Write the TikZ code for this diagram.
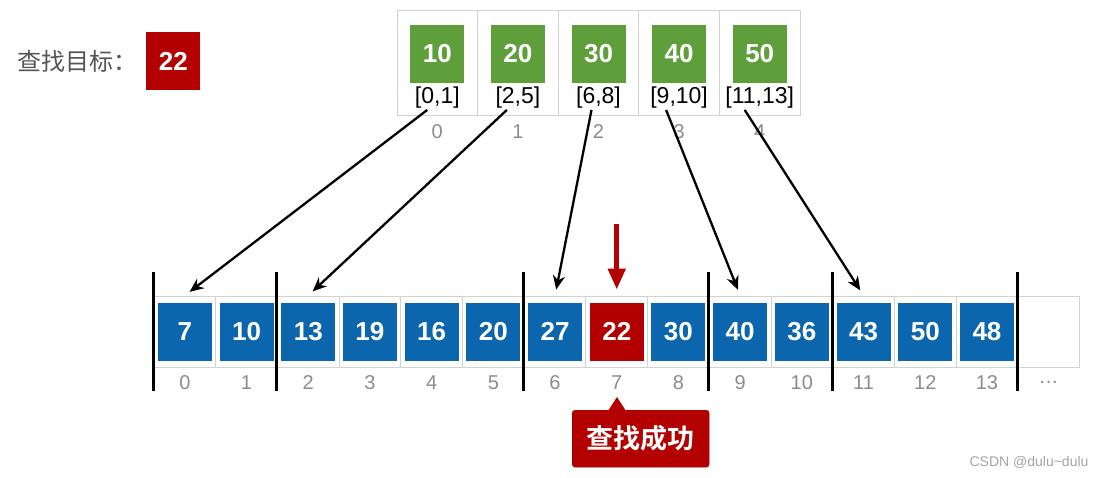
\documentclass[tikz,border=0pt]{standalone}
\usepackage{fontspec}
\setmainfont{Liberation Sans}
\newfontfamily\cjk{Noto Sans CJK SC}[BoldFont={Noto Sans CJK SC Bold}]
\usetikzlibrary{arrows.meta, positioning, calc}
\definecolor{BlockBlue}{HTML}{0C66AD}
\definecolor{BlockGreen}{HTML}{5E9F3B}
\definecolor{HitRed}{HTML}{B30000}
\definecolor{Grid}{HTML}{D2D2D2}
\definecolor{Gray55}{HTML}{555555}
\definecolor{Gray60}{HTML}{8C8C8C}

\begin{document}
\begin{tikzpicture}[x=1pt, y=-1pt,
          cell/.style={rectangle, draw=Grid, line width=1pt, minimum width=61.7pt,
                       minimum height=71pt, inner sep=0pt},
          tcell/.style={rectangle, draw=Grid, line width=1pt, minimum width=80.6pt,
                        minimum height=105pt, inner sep=0pt},
          vbox/.style={rectangle, minimum width=54pt, minimum height=58pt, inner sep=0pt,
                       text=white, font=\bfseries\fontsize{26}{26}\selectfont},
          idx/.style={text=Gray60, font=\fontsize{20}{20}\selectfont},
          rng/.style={text=black, font=\fontsize{23}{23}\selectfont, inner sep=1pt},
          bar/.style={line width=3pt, black},
          arr/.style={-{Stealth[length=14pt, width=12pt]}, line width=2.3pt, black, shorten >=6pt},
          hit/.style={-{Triangle[length=21pt, width=17pt]}, line width=5pt, HitRed, shorten >=6pt},
          okbox/.style={rectangle, rounded corners=3pt, fill=HitRed, draw=HitRed!80!black,
                        minimum width=137pt, minimum height=57pt, text=white,
                        font=\cjk\bfseries\fontsize{27}{27}\selectfont}
        ]
          \useasboundingbox (0,0) rectangle (1105,477);
          % target
          \node[anchor=west, text=Gray55, font=\cjk\fontsize{24}{24}\selectfont] (goal) at (14,61) {查找目标：};
          \node[vbox, fill=HitRed, right=5pt of goal] (key) {22};
          % index table
          \foreach \v/\r [count=\j from 0] in {10/{[0,1]},20/{[2,5]},30/{[6,8]},40/{[9,10]},50/{[11,13]}} {
            \node[tcell] (t\j) at ({437.3+80.6*\j},62.5) {};
            \node[vbox, fill=BlockGreen] (g\j) at ({437.3+80.6*\j},54) {\v};
            \node[rng] (r\j) at ({437.3+80.6*\j},98) {\r};
            \node[idx] (ti\j) at ({437.3+80.6*\j},132) {\j};
          }
          % blocks
          \foreach \i in {0,...,14}
            \node[cell] (c\i) at ({184.85+61.7*\i},331.5) {};
          \foreach \v/\col [count=\i from 0] in {7/BlockBlue,10/BlockBlue,13/BlockBlue,19/BlockBlue,
                16/BlockBlue,20/BlockBlue,27/BlockBlue,22/HitRed,30/BlockBlue,40/BlockBlue,
                36/BlockBlue,43/BlockBlue,50/BlockBlue,48/BlockBlue} {
            \node[vbox, fill=\col] (v\i) at (c\i) {\v};
            \node[idx] (i\i) at ($(c\i.south)+(0,15)$) {\i};
          }
          \node[idx] (i14) at ($(c14.south)+(0,15)$) {\dots};
          \foreach \k in {0,2,6,9,11,14}
            \draw[bar] ($(c\k.north west)+(0,-24)$) -- ($(c\k.south west)+(0,23)$);
          % links
          \draw[arr] ($(r0.south)+(-10,0)$) -- (c0.north);
          \draw[arr] ($(r1.south)+(-11,0)$) -- (c2.north);
          \draw[arr] ($(r2.south)+(-7,0)$) -- (c6.north);
          \draw[arr] ($(r3.south)+(-13,0)$) -- (c9.north);
          \draw[arr] ($(r4.south)+(-15,0)$) -- (c11.north);
          % hit
          \coordinate[above=72pt of c7.north] (drop);
          \draw[hit] (drop) -- (c7.north);
          \node[okbox, anchor=north west] (ok) at (572,410) {查找成功};
          \fill[HitRed] ($(ok.north west)+(36,1)$) -- ($(ok.north west)+(45,-13)$) -- ($(ok.north west)+(54,1)$) -- cycle;
          \node[anchor=east, text=Gray60!80, font=\fontsize{14}{14}\selectfont] (mark) at (1092,462) {CSDN @dulu\textasciitilde dulu};
        \end{tikzpicture}
\end{document}
